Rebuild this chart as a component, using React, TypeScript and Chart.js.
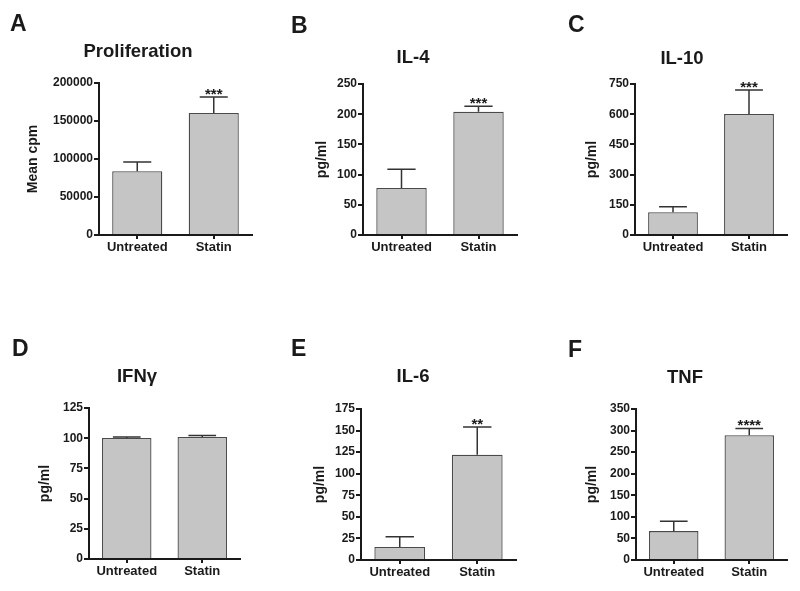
import React, { useEffect, useRef } from "react";
import { Chart, registerables } from "chart.js";

Chart.register(...registerables);

// ---------- DATA ----------
const categories = ["Untreated", "Statin"];

const panelLetters = ["A", "B", "C", "D", "E", "F"];
const panelTitles = ["Proliferation", "IL-4", "IL-10", "IFNγ", "IL-6", "TNF"];
const yAxisTitles = ["Mean cpm", "pg/ml", "pg/ml", "pg/ml", "pg/ml", "pg/ml"];
const yMaxValues = [200000, 250, 750, 125, 175, 350];
const yStepValues = [50000, 50, 150, 25, 25, 50];

const proliferationMeans = [84000, 160500];
const proliferationErrors = [12000, 21000];
const il4Means = [78, 204];
const il4Errors = [31, 9];
const il10Means = [113, 601];
const il10Errors = [27, 119];
const ifngMeans = [100.2, 101];
const ifngErrors = [0.8, 1.2];
const il6Means = [15, 122];
const il6Errors = [12, 32];
const tnfMeans = [67, 289];
const tnfErrors = [23, 16];

const significance = ["***", "***", "***", "", "**", "****"];

const allMeans = [proliferationMeans, il4Means, il10Means, ifngMeans, il6Means, tnfMeans];
const allErrors = [proliferationErrors, il4Errors, il10Errors, ifngErrors, il6Errors, tnfErrors];

// ---------- LAYOUT (page pixels) ----------
type PanelLayout = {
  cell: [number, number, number, number]; // x, y, w, h
  area: [number, number, number, number]; // left, top, right, bottom
  title: [number, number]; // center x, baseline y
  letter: [number, number]; // left x, baseline y
  yTitleX: number;
};

const LAYOUT: PanelLayout[] = [
  { cell: [0, 0, 265, 290], area: [99, 83, 252, 235], title: [138, 57], letter: [10, 31], yTitleX: 33 },
  { cell: [265, 0, 265, 290], area: [363, 84, 517, 235], title: [413, 63], letter: [291, 33], yTitleX: 322 },
  { cell: [530, 0, 270, 290], area: [635, 84, 787, 235], title: [682, 64], letter: [568, 32], yTitleX: 592 },
  { cell: [0, 290, 265, 301], area: [89, 408, 240, 559], title: [137, 382], letter: [12, 356], yTitleX: 45 },
  { cell: [265, 290, 265, 301], area: [361, 409, 516, 560], title: [413, 382], letter: [291, 356], yTitleX: 320 },
  { cell: [530, 290, 270, 301], area: [636, 409, 787, 560], title: [685, 383], letter: [568, 357], yTitleX: 592 },
];

const FONT = "'Liberation Sans', Arial, Helvetica, sans-serif";
const INK = "#1a1a1a";
const BAR_FILL = "#c5c5c5";
const BAR_EDGE = "#4a4a4a";

function Panel({ index }: { index: number }) {
  const ref = useRef<HTMLCanvasElement | null>(null);
  const lay = LAYOUT[index];
  const [cx, cy, cw, ch] = lay.cell;
  const [aL, aT, aR, aB] = lay.area;

  useEffect(() => {
    if (!ref.current) return;
    const means = allMeans[index];
    const errs = allErrors[index];
    const stars = significance[index];
    const yTitleFont = 14;
    const yTitleLH = yTitleFont * 1.2;

    const extras = {
      id: "extras" + index,
      afterDatasetsDraw(chart: any) {
        const ctx = chart.ctx;
        const meta = chart.getDatasetMeta(0);
        const y = chart.scales.y;
        ctx.save();
        ctx.strokeStyle = "#333";
        ctx.lineWidth = 1.5;
        meta.data.forEach((el: any, i: number) => {
          const top = y.getPixelForValue(means[i] + errs[i]);
          const half = el.width * 0.28;
          ctx.beginPath();
          ctx.moveTo(el.x, el.y);
          ctx.lineTo(el.x, top);
          ctx.moveTo(el.x - half, top);
          ctx.lineTo(el.x + half, top);
          ctx.stroke();
          if (i === 1 && stars) {
            ctx.fillStyle = INK;
            ctx.font = `bold 15px ${FONT}`;
            ctx.textAlign = "center";
            ctx.textBaseline = "alphabetic";
            ctx.fillText(stars, el.x, top + 2);
          }
        });
        ctx.restore();
      },
      afterDraw(chart: any) {
        const ctx = chart.ctx;
        ctx.save();
        ctx.fillStyle = INK;
        ctx.textBaseline = "alphabetic";
        ctx.font = `bold 23px ${FONT}`;
        ctx.textAlign = "left";
        ctx.fillText(panelLetters[index], lay.letter[0] - cx, lay.letter[1] - cy);
        ctx.font = `bold 18.5px ${FONT}`;
        ctx.textAlign = "center";
        ctx.fillText(panelTitles[index], lay.title[0] - cx, lay.title[1] - cy);
        ctx.restore();
      },
    };

    const chart = new Chart(ref.current, {
      type: "bar",
      data: {
        labels: categories,
        datasets: [
          {
            data: means,
            backgroundColor: BAR_FILL,
            borderColor: BAR_EDGE,
            borderWidth: 1.3,
            barPercentage: 0.655,
            categoryPercentage: 1,
          },
        ],
      },
      options: {
        responsive: false,
        animation: false,
        events: [],
        layout: {
          padding: { left: 0, top: aT - cy, right: cx + cw - aR, bottom: 0 },
        },
        plugins: {
          legend: { display: false },
          tooltip: { enabled: false },
          title: { display: false },
        },
        scales: {
          x: {
            type: "category",
            offset: true,
            afterFit: (s: any) => {
              s.height = cy + ch - aB;
            },
            grid: {
              display: true,
              drawOnChartArea: false,
              drawTicks: true,
              offset: false,
              tickLength: 4,
              color: INK,
              lineWidth: 2,
            },
            border: { display: true, color: INK, width: 2 },
            ticks: {
              color: INK,
              padding: 1,
              font: { family: FONT, size: 13, weight: "bold" },
            },
          },
          y: {
            min: 0,
            max: yMaxValues[index],
            afterFit: (s: any) => {
              s.width = aL - cx;
            },
            title: {
              display: true,
              text: yAxisTitles[index],
              color: INK,
              font: { family: FONT, size: yTitleFont, weight: "bold" },
              padding: { top: lay.yTitleX - cx - yTitleLH / 2, bottom: 0 },
            },
            grid: {
              display: true,
              drawOnChartArea: false,
              drawTicks: true,
              tickLength: 5,
              color: INK,
              lineWidth: 2,
            },
            border: { display: true, color: INK, width: 2 },
            ticks: {
              stepSize: yStepValues[index],
              color: INK,
              padding: 1,
              font: { family: FONT, size: 12, weight: "bold" },
              callback: (v: any) => String(v),
            },
          },
        },
      },
      plugins: [extras],
    } as any);

    return () => chart.destroy();
  }, [index]);

  return (
    <canvas
      ref={ref}
      width={cw}
      height={ch}
      style={{ position: "absolute", left: cx, top: cy, width: cw, height: ch }}
    />
  );
}

export default function App() {
  return (
    <div
      style={{
        position: "absolute",
        left: 0,
        top: 0,
        width: 800,
        height: 591,
        background: "#ffffff",
        overflow: "hidden",
      }}
    >
      {panelLetters.map((_, i) => (
        <Panel key={i} index={i} />
      ))}
    </div>
  );
}
